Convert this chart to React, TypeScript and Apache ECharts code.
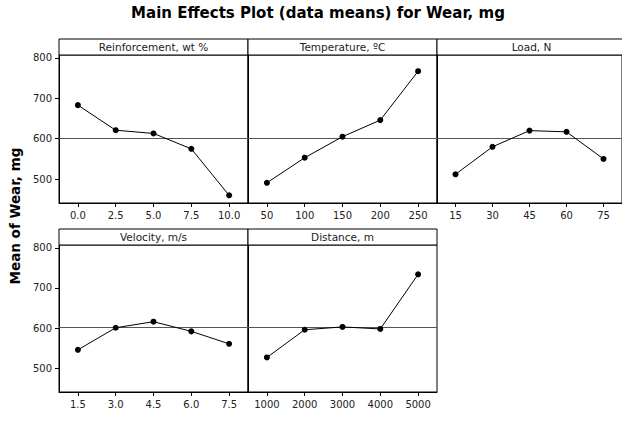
import React, { useEffect, useRef } from "react";
import * as echarts from "echarts";

// ---- data ----
const reinforcementX = [0, 2.5, 5, 7.5, 10];
const reinforcementLabels = ["0.0", "2.5", "5.0", "7.5", "10.0"];
const reinforcementY = [683, 621, 613, 575, 460];

const temperatureX = [50, 100, 150, 200, 250];
const temperatureLabels = ["50", "100", "150", "200", "250"];
const temperatureY = [491, 553, 605, 646, 767];

const loadX = [15, 30, 45, 60, 75];
const loadLabels = ["15", "30", "45", "60", "75"];
const loadY = [512, 580, 620, 617, 550];

const velocityX = [1.5, 3, 4.5, 6, 7.5];
const velocityLabels = ["1.5", "3.0", "4.5", "6.0", "7.5"];
const velocityY = [546, 601, 616, 592, 561];

const distanceX = [1000, 2000, 3000, 4000, 5000];
const distanceLabels = ["1000", "2000", "3000", "4000", "5000"];
const distanceY = [527, 596, 603, 598, 734];

const yTicks = [500, 600, 700, 800];
const yTickLabels = ["500", "600", "700", "800"];
const grandMean = 602;

const panelTitles = [
  "Reinforcement, wt %",
  "Temperature, \u00BAC",
  "Load, N",
  "Velocity, m/s",
  "Distance, m",
];
const chartTitle = "Main Effects Plot (data means) for Wear, mg";
const yAxisTitle = "Mean of Wear, mg";

const panels = [
  { x: reinforcementX, y: reinforcementY, labels: reinforcementLabels, title: panelTitles[0] },
  { x: temperatureX, y: temperatureY, labels: temperatureLabels, title: panelTitles[1] },
  { x: loadX, y: loadY, labels: loadLabels, title: panelTitles[2] },
  { x: velocityX, y: velocityY, labels: velocityLabels, title: panelTitles[3] },
  { x: distanceX, y: distanceY, labels: distanceLabels, title: panelTitles[4] },
];

// ---- layout ----
const COL_LEFT = [59, 248, 437];
const COL_W = 189;
const ROW_TOP = [55, 245];
const ROW_H = [148, 147];
const HEADER_H = 16;
const Y_MIN = 441;
const Y_MAX = 807;
const FONT = "'DejaVu Sans', Verdana, sans-serif";

export default function App() {
  const ref = useRef<HTMLDivElement>(null);

  useEffect(() => {
    if (!ref.current) return;
    const chart = echarts.init(ref.current, undefined, { renderer: "svg" });

    const grids: any[] = [];
    const xAxes: any[] = [];
    const yAxes: any[] = [];
    const series: any[] = [];
    const graphics: any[] = [];

    panels.forEach((p, i) => {
      const row = i < 3 ? 0 : 1;
      const col = i < 3 ? i : i - 3;
      const left = COL_LEFT[col];
      const top = ROW_TOP[row];
      grids.push({
        left,
        top,
        width: COL_W,
        height: ROW_H[row],
        show: true,
        borderColor: "#000",
        borderWidth: 1,
        backgroundColor: "#fff",
      });
      const step = p.x[1] - p.x[0];
      xAxes.push({
        type: "value",
        gridIndex: i,
        min: p.x[0] - step / 2,
        max: p.x[p.x.length - 1] + step / 2,
        axisLine: { show: true, onZero: false, lineStyle: { color: "#000", width: 1 } },
        axisTick: {
          show: true,
          inside: false,
          length: 4,
          customValues: p.x,
          lineStyle: { color: "#000" },
        },
        axisLabel: {
          show: true,
          customValues: p.x,
          margin: 7,
          fontSize: 10,
          fontFamily: FONT,
          color: "#222",
          formatter: (v: number) => {
            const idx = p.x.indexOf(v);
            return idx >= 0 ? p.labels[idx] : "";
          },
        },
        splitLine: { show: false },
      });
      const first = col === 0;
      yAxes.push({
        type: "value",
        gridIndex: i,
        min: Y_MIN,
        max: Y_MAX,
        axisLine: { show: true, onZero: false, lineStyle: { color: "#000", width: 1 } },
        axisTick: {
          show: first,
          inside: false,
          length: 4,
          customValues: yTicks,
          lineStyle: { color: "#000" },
        },
        axisLabel: {
          show: first,
          customValues: yTicks,
          margin: 7,
          fontSize: 10,
          fontFamily: FONT,
          color: "#222",
          formatter: (v: number) => {
            const idx = yTicks.indexOf(v);
            return idx >= 0 ? yTickLabels[idx] : "";
          },
        },
        splitLine: { show: false },
      });
      series.push({
        type: "line",
        xAxisIndex: i,
        yAxisIndex: i,
        data: p.x.map((xv, k) => [xv, p.y[k]]),
        symbol: "circle",
        symbolSize: 6,
        itemStyle: { color: "#000" },
        lineStyle: { color: "#000", width: 1 },
        z: 5,
        markLine: {
          silent: true,
          symbol: "none",
          label: { show: false },
          lineStyle: { color: "#555", width: 1, type: "solid" },
          data: [{ yAxis: grandMean }],
          z: 3,
        },
      });
      // header
      graphics.push({
        type: "rect",
        shape: { x: left, y: top - HEADER_H, width: COL_W, height: HEADER_H },
        style: { fill: "#fff", stroke: "#000", lineWidth: 1 },
        z: 10,
      });
      graphics.push({
        type: "text",
        x: left + COL_W / 2,
        y: top - HEADER_H / 2,
        style: {
          text: p.title,
          textAlign: "center",
          textVerticalAlign: "middle",
          fontSize: 10.5,
          fontFamily: FONT,
          fill: "#222",
        },
        z: 11,
      });
    });

    graphics.push({
      type: "text",
      x: 318,
      y: 13,
      style: {
        text: chartTitle,
        textAlign: "center",
        textVerticalAlign: "middle",
        fontSize: 15,
        fontWeight: "bold",
        fontFamily: FONT,
        fill: "#000",
      },
    });
    graphics.push({
      type: "text",
      x: 15,
      y: 216,
      rotation: Math.PI / 2,
      style: {
        text: yAxisTitle,
        textAlign: "center",
        textVerticalAlign: "middle",
        fontSize: 13.5,
        fontWeight: "bold",
        fontFamily: FONT,
        fill: "#000",
      },
    });

    chart.setOption({
      animation: false,
      backgroundColor: "#fff",
      grid: grids,
      xAxis: xAxes,
      yAxis: yAxes,
      series,
      graphic: graphics,
    });

    return () => chart.dispose();
  }, []);

  return (
    <div
      ref={ref}
      style={{ position: "absolute", left: 0, top: 0, width: 622, height: 421 }}
    />
  );
}
